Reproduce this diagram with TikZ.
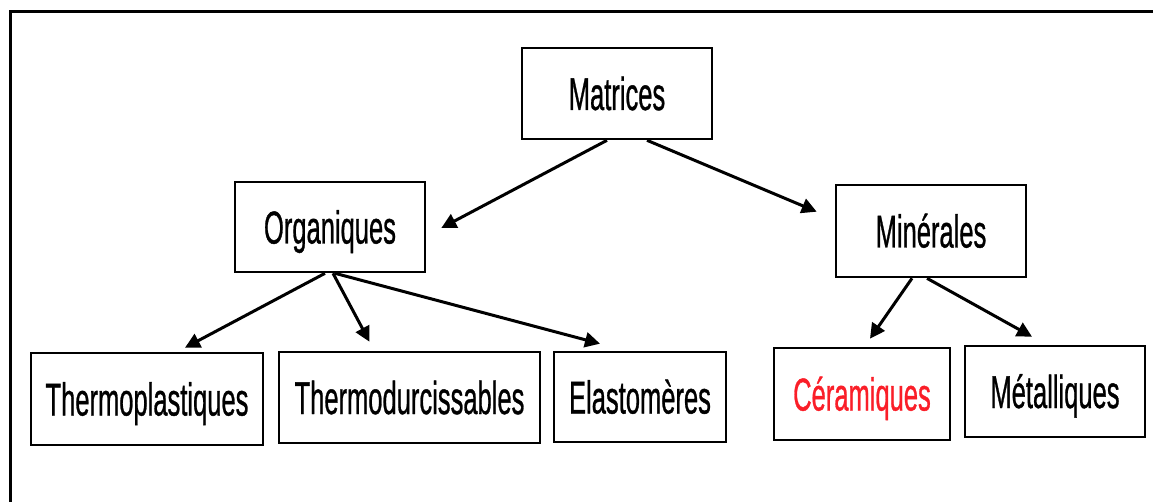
\documentclass[tikz,border=0pt]{standalone}
\usepackage{fontspec}
\setmainfont{Liberation Sans}
\newfontfamily\labelfont{Liberation Sans}[FakeBold=1]
\usetikzlibrary{arrows.meta,calc}
\definecolor{labelred}{RGB}{250,30,40}
% labels are set in a horizontally condensed sans
\newcommand{\condensed}[1]{\scalebox{0.555}[1]{#1}}
\begin{document}
\begin{tikzpicture}[x=1pt,y=-1pt,
  box/.style={draw=black, line width=2.6pt, inner sep=0pt,
    text height=33pt, text depth=0pt,
    font=\labelfont\fontsize{46}{52}\selectfont},
  arr/.style={line width=3pt, -{Triangle[length=15pt,width=15pt]}},
  frame/.style={line width=3pt}]
\useasboundingbox (0,0) rectangle (1153,502);

% outer frame (only top and left edges fall inside the page)
\draw[frame] (1153,11.5) -- (10,11.5) -- (10,502);

% first level
\node[box, minimum width=190pt, minimum height=91pt] (mat) at (617,93.5) {\condensed{Matrices}};

% second level
\node[box, minimum width=190pt, minimum height=90pt] (org) at (330,227) {\condensed{Organiques}};
\node[box, minimum width=190pt, minimum height=92pt] (min) at (931,231) {\condensed{Minérales}};

% third level
\node[box, minimum width=232pt, minimum height=92pt] (tp)  at (147,399)   {\condensed{Thermoplastiques}};
\node[box, minimum width=261pt, minimum height=91pt] (td)  at (409.5,397.5) {\condensed{Thermodurcissables}};
\node[box, minimum width=172pt, minimum height=90pt] (ela) at (640,397)   {\condensed{Elastomères}};
\node[box, minimum width=176pt, minimum height=92pt, text=labelred] (cer) at (862,394) {\condensed{Céramiques}};
\node[box, minimum width=180pt, minimum height=91pt] (met) at (1055,391.5) {\condensed{Métalliques}};

% connectors
\draw[arr] ($(mat.south)+(-10,0)$) -- ($(org.east)+(15,1)$);
\draw[arr] ($(mat.south)+(30,0)$) -- ($(min.north west)+(-18,28)$);
\draw[arr] ($(org.south)+(-5,0)$) -- ($(tp.north)+(38,-4)$);
\draw[arr] ($(org.south)+(3,0)$) -- ($(td.north)+(-40,-9)$);
\draw[arr] ($(org.south)+(5,0)$) -- ($(ela.north)+(-40,-7)$);
\draw[arr] ($(min.south)+(-19,0)$) -- ($(cer.north)+(8,-8)$);
\draw[arr] ($(min.south)+(-4,0)$) -- ($(met.north)+(-23,-8)$);
\end{tikzpicture}
\end{document}
